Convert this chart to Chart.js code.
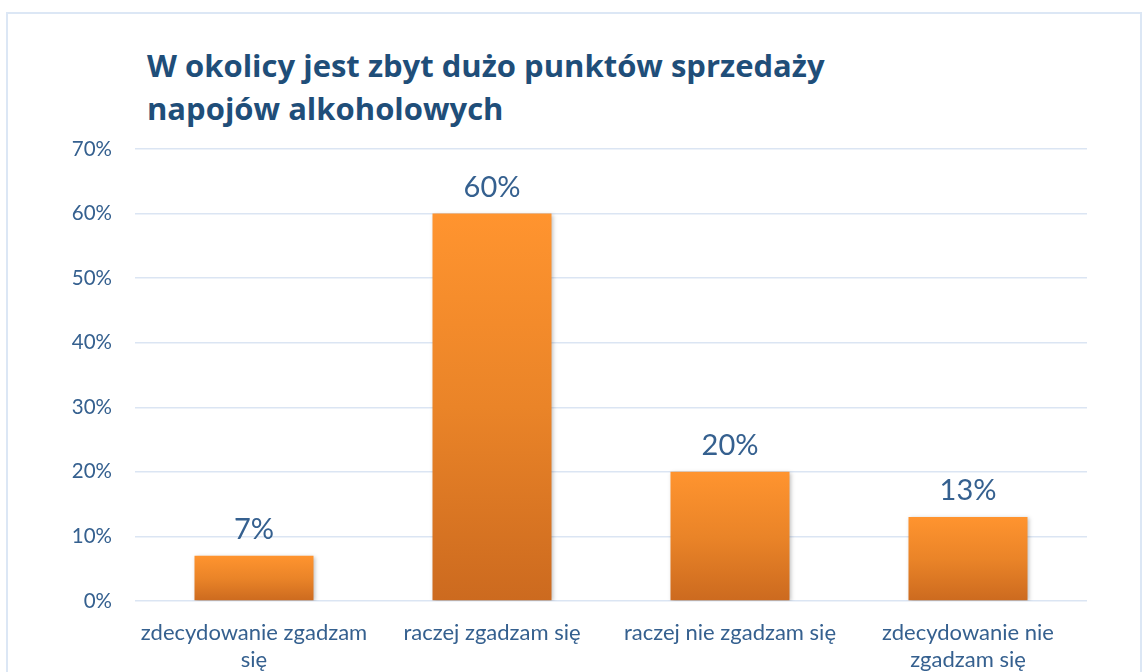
<!DOCTYPE html>
<html lang="pl">
<head>
  <meta charset="UTF-8">
  <title>W okolicy jest zbyt dużo punktów sprzedaży napojów alkoholowych</title>
  <script src="https://cdn.jsdelivr.net/npm/chart.js"></script>
  <style>
    body {
      margin: 0;
      background: #fff;
      font-family: Lato, "Open Sans", sans-serif;
    }

    .wrap {
      position: relative;
      width: 1148px;
      height: 672px;
      overflow: hidden;
    }

    /* light frame of the chart object */
    .frame {
      position: absolute;
      left: 6px;
      top: 12px;
      width: 1132px;
      height: 700px;
      border: 2px solid #dce7f5;
    }

    .title {
      position: absolute;
      left: 147px;
      top: 44px;
      margin: 0;
      font-family: "Open Sans", sans-serif;
      font-size: 31px;
      font-weight: bold;
      line-height: 43px;
      color: #1f4e79;
    }

    canvas {
      position: absolute;
      left: 0;
      top: 0;
    }
  </style>
</head>
<body>

  <div class="wrap">
    <div class="frame"></div>
    <h1 class="title">W okolicy jest zbyt dużo punktów sprzedaży<br>napojów alkoholowych</h1>
    <canvas id="chart" width="1148" height="672"></canvas>
  </div>

  <script>
    // data
    const categories = [
      ['zdecydowanie zgadzam', 'się'],
      'raczej zgadzam się',
      'raczej nie zgadzam się',
      ['zdecydowanie nie', 'zgadzam się']
    ];
    const values = [7, 60, 20, 13];
    const yTicks = [0, 10, 20, 30, 40, 50, 60, 70];

    const textBlue = '#35608f';
    const gridBlue = '#dbe5f3';

    // gradient per bar, from its top down to the baseline
    function barGradient(context) {
      const chart = context.chart;
      const y = chart.scales.y;
      if (!y || !context.parsed) return '#f7922e';
      const top = y.getPixelForValue(context.parsed.y);
      const bottom = y.getPixelForValue(0);
      if (!isFinite(top) || !isFinite(bottom) || top === bottom) return '#f7922e';
      const g = chart.ctx.createLinearGradient(0, top, 0, bottom);
      g.addColorStop(0, '#ff942f');
      g.addColorStop(0.5, '#ea8428');
      g.addColorStop(1, '#cc6a1f');
      return g;
    }

    // soft shadow under bars + value labels above them
    const valueLabels = {
      id: 'valueLabels',
      beforeDatasetsDraw(chart) {
        const ctx = chart.ctx;
        ctx.save();
        ctx.shadowColor = 'rgba(0,0,0,0.25)';
        ctx.shadowBlur = 4;
        ctx.shadowOffsetX = 1;
        ctx.shadowOffsetY = 1;
      },
      afterDatasetsDraw(chart) {
        const ctx = chart.ctx;
        ctx.restore();
        ctx.save();
        ctx.font = '29px Lato, "Open Sans", sans-serif';
        ctx.fillStyle = textBlue;
        ctx.textAlign = 'center';
        ctx.textBaseline = 'alphabetic';
        chart.getDatasetMeta(0).data.forEach((bar, i) => {
          ctx.fillText(values[i] + '%', bar.x, bar.y - 17);
        });
        ctx.restore();
      }
    };

    new Chart(document.getElementById('chart'), {
      type: 'bar',
      data: {
        labels: categories,
        datasets: [{
          data: values,
          backgroundColor: barGradient,
          borderWidth: 0,
          categoryPercentage: 1,
          barPercentage: 0.5
        }]
      },
      options: {
        responsive: false,
        animation: false,
        events: [],
        layout: {
          padding: { top: 149, right: 61, bottom: 0, left: 0 }
        },
        plugins: {
          legend: { display: false },
          tooltip: { enabled: false }
        },
        scales: {
          y: {
            min: 0,
            max: 70,
            afterFit(scale) { scale.width = 135; },
            afterBuildTicks(scale) {
              scale.ticks = yTicks.map(v => ({ value: v }));
            },
            grid: { color: gridBlue, lineWidth: 1.5, drawTicks: false },
            border: { display: false },
            ticks: {
              padding: 23,
              color: textBlue,
              font: { family: 'Lato, "Open Sans", sans-serif', size: 20.5 },
              callback: v => v + '%'
            }
          },
          x: {
            afterFit(scale) { scale.height = 71; },
            grid: { display: false, drawTicks: false },
            border: { display: false },
            ticks: {
              padding: 18,
              color: textBlue,
              maxRotation: 0,
              autoSkip: false,
              font: { family: 'Lato, "Open Sans", sans-serif', size: 22, lineHeight: 1.25 }
            }
          }
        }
      },
      plugins: [valueLabels]
    });
  </script>

</body>
</html>
